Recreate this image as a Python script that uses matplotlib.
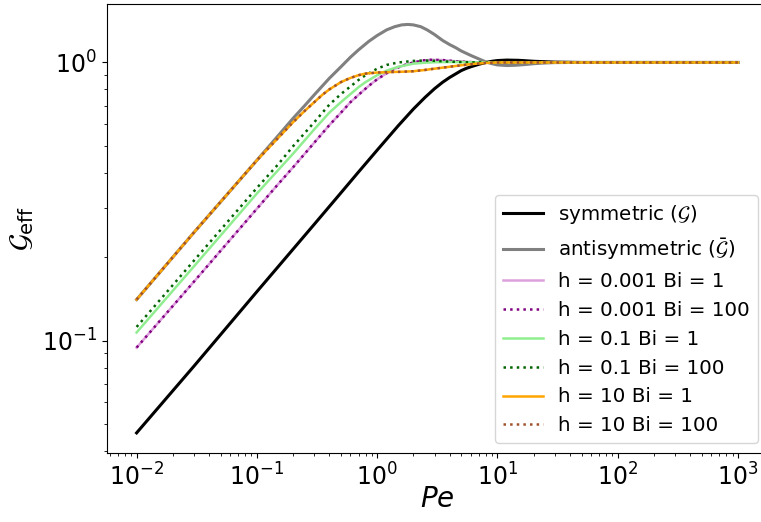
import numpy as np
import matplotlib
matplotlib.use('Agg')
import matplotlib.pyplot as plt

# values (Pe, G_eff)
pe_sym = [0.01, 0.03, 0.1, 0.3, 0.5, 0.7, 1.0, 1.5, 2.0, 2.5, 3.0, 3.5, 4.0, 4.5, 5.0, 5.5, 6.0, 7.0, 8.0, 9.0, 10, 12, 15, 20, 30, 50, 100, 1000]
g_sym = [0.0466, 0.081, 0.15, 0.262, 0.34, 0.404, 0.484, 0.593, 0.68, 0.749, 0.805, 0.849, 0.883, 0.91, 0.935, 0.952, 0.965, 0.985, 1.0, 1.01, 1.016, 1.02, 1.018, 1.01, 1.003, 1.0, 1.0, 1.0]

pe_anti = [0.01, 0.03, 0.1, 0.15, 0.2, 0.25, 0.3, 0.4, 0.5, 0.6, 0.7, 0.85, 1.0, 1.2, 1.4, 1.6, 1.8, 2.0, 2.3, 2.6, 3.0, 3.5, 4.0, 4.5, 5.0, 6.0, 7.0, 8.0, 9.0, 10, 12, 14, 17, 20, 25, 30, 40, 100, 1000]
g_anti = [0.1405, 0.245, 0.445, 0.545, 0.63, 0.70, 0.765, 0.877, 0.965, 1.045, 1.11, 1.19, 1.25, 1.31, 1.345, 1.365, 1.37, 1.365, 1.345, 1.31, 1.26, 1.20, 1.16, 1.13, 1.10, 1.06, 1.03, 1.005, 0.99, 0.98, 0.975, 0.977, 0.983, 0.99, 0.996, 0.999, 1.0, 1.0, 1.0]

pe_h0001 = [0.01, 0.03, 0.1, 0.15, 0.2, 0.3, 0.4, 0.5, 0.6, 0.7, 0.8, 0.9, 1.0, 1.2, 1.4, 1.7, 2.0, 2.4, 2.8, 3.5, 4.5, 6.0, 8.0, 10, 1000]
g_h0001_bi1 = [0.0944, 0.163, 0.298, 0.365, 0.42, 0.515, 0.595, 0.66, 0.72, 0.765, 0.805, 0.84, 0.87, 0.915, 0.95, 0.98, 1.0, 1.017, 1.022, 1.02, 1.01, 1.003, 1.0, 1.0, 1.0]
g_h0001_bi100 = [0.0944, 0.163, 0.298, 0.365, 0.42, 0.515, 0.595, 0.66, 0.72, 0.765, 0.805, 0.84, 0.87, 0.915, 0.95, 0.98, 1.0, 1.017, 1.022, 1.02, 1.01, 1.003, 1.0, 1.0, 1.0]

pe_h01_bi1 = [0.01, 0.03, 0.1, 0.15, 0.2, 0.3, 0.4, 0.5, 0.6, 0.7, 0.8, 1.0, 1.2, 1.5, 2.0, 2.5, 3.0, 4.0, 6.0, 10, 1000]
g_h01_bi1 = [0.107, 0.185, 0.338, 0.41, 0.47, 0.575, 0.66, 0.72, 0.77, 0.815, 0.85, 0.90, 0.935, 0.965, 0.99, 0.998, 1.002, 1.004, 1.002, 1.0, 1.0]

pe_h01_bi100 = [0.01, 0.03, 0.1, 0.15, 0.2, 0.3, 0.4, 0.5, 0.6, 0.7, 0.8, 1.0, 1.2, 1.5, 2.0, 2.5, 3.0, 4.0, 6.0, 10, 1000]
g_h01_bi100 = [0.112, 0.194, 0.354, 0.43, 0.50, 0.61, 0.705, 0.77, 0.82, 0.865, 0.90, 0.95, 0.98, 1.0, 1.013, 1.016, 1.014, 1.007, 1.001, 1.0, 1.0]

pe_h10 = [0.01, 0.03, 0.1, 0.15, 0.2, 0.25, 0.3, 0.35, 0.4, 0.5, 0.6, 0.7, 0.8, 1.0, 1.3, 1.6, 2.0, 2.5, 3.0, 4.0, 5.0, 6.0, 8.0, 10, 1000]
g_h10_bi1 = [0.1405, 0.245, 0.445, 0.535, 0.61, 0.67, 0.72, 0.765, 0.80, 0.85, 0.88, 0.90, 0.912, 0.92, 0.924, 0.926, 0.93, 0.94, 0.95, 0.965, 0.977, 0.986, 0.996, 1.0, 1.0]
g_h10_bi100 = [0.1405, 0.245, 0.445, 0.535, 0.61, 0.67, 0.72, 0.765, 0.80, 0.85, 0.88, 0.90, 0.912, 0.92, 0.924, 0.926, 0.93, 0.94, 0.95, 0.965, 0.977, 0.986, 0.996, 1.0, 1.0]

fig = plt.figure(figsize=(7.61, 5.22), dpi=100)
ax = fig.add_axes([0.14, 0.1316, 0.8693, 0.8607])

ax.plot(pe_sym, g_sym, color='black', lw=2.2, label=r'symmetric ($\mathcal{G}$)')
ax.plot(pe_anti, g_anti, color='gray', lw=2.2, label=r'antisymmetric ($\bar{\mathcal{G}}$)')
ax.plot(pe_h0001, g_h0001_bi1, color='plum', lw=1.8, label='h = 0.001 Bi = 1')
ax.plot(pe_h0001, g_h0001_bi100, color='purple', lw=1.8, ls=':', label='h = 0.001 Bi = 100')
ax.plot(pe_h01_bi1, g_h01_bi1, color='lightgreen', lw=1.8, label='h = 0.1 Bi = 1')
ax.plot(pe_h01_bi100, g_h01_bi100, color='darkgreen', lw=1.8, ls=':', label='h = 0.1 Bi = 100')
ax.plot(pe_h10, g_h10_bi1, color='orange', lw=1.8, label='h = 10 Bi = 1')
ax.plot(pe_h10, g_h10_bi100, color='sienna', lw=1.8, ls=':', label='h = 10 Bi = 100')

ax.set_xscale('log')
ax.set_yscale('log')
ax.set_xlabel(r'$Pe$', fontsize=20, labelpad=-4)
ax.set_ylabel(r'$\mathcal{G}_{\mathrm{eff}}$', fontsize=20)
ax.tick_params(labelsize=17)
ax.legend(loc='lower right', fontsize=14.3)

fig.savefig('out.png', dpi=100)
